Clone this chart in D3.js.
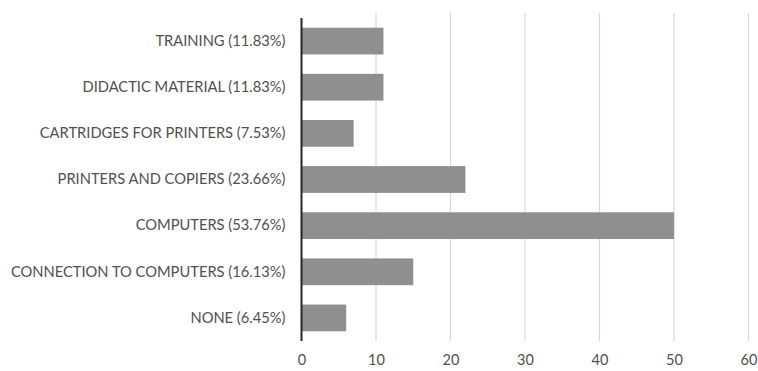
<!DOCTYPE html>
<html>
<head>
<meta charset="utf-8">
<script src="https://cdn.jsdelivr.net/npm/d3@7"></script>
<style>
  html, body { margin: 0; padding: 0; background: #fff; }
  svg { display: block; }
  text { font-family: Lato, "Open Sans", sans-serif; fill: #505050; }
</style>
</head>
<body>
<svg id="chart" width="758" height="371"></svg>
<script>
// Resources requested, in respondent counts (share of 93 in the label)
const categories = [
  "TRAINING (11.83%)",
  "DIDACTIC MATERIAL (11.83%)",
  "CARTRIDGES FOR PRINTERS (7.53%)",
  "PRINTERS AND COPIERS (23.66%)",
  "COMPUTERS (53.76%)",
  "CONNECTION TO COMPUTERS (16.13%)",
  "NONE (6.45%)"
];
const values = [11, 11, 7, 22, 50, 15, 6];
const xTicks = [0, 10, 20, 30, 40, 50, 60];

const svg = d3.select("#chart");
const plotLeft = 301.5, plotRight = 748.5, plotTop = 18, plotBottom = 341;

const x = d3.scaleLinear().domain([0, 60]).range([plotLeft, plotRight]);
const y = d3.scaleBand().domain(categories).range([plotTop, plotBottom]).paddingInner(0.42).paddingOuter(0.21);

// vertical gridlines
svg.append("g")
  .selectAll("line")
  .data(xTicks.filter(d => d > 0))
  .join("line")
  .attr("x1", d => x(d)).attr("x2", d => x(d))
  .attr("y1", 13).attr("y2", plotBottom)
  .attr("stroke", "#d9d9d9")
  .attr("stroke-width", 1.2);

// bars
svg.append("g")
  .selectAll("rect")
  .data(values)
  .join("rect")
  .attr("x", x(0))
  .attr("y", (d, i) => y(categories[i]))
  .attr("width", d => x(d) - x(0))
  .attr("height", y.bandwidth())
  .attr("fill", "#8f8f8f");

// category axis
const yAxis = svg.append("g")
  .attr("transform", `translate(${plotLeft},0)`)
  .call(d3.axisLeft(y).tickSize(0).tickPadding(16));
yAxis.select(".domain").remove();
yAxis.selectAll("text")
  .attr("font-size", 14.7)
  .style("font-family", "Lato, 'Open Sans', sans-serif")
  .attr("fill", "#505050");

svg.append("line")
  .attr("x1", plotLeft).attr("x2", plotLeft)
  .attr("y1", plotTop).attr("y2", plotBottom)
  .attr("stroke", "#262626")
  .attr("stroke-width", 2);

// value axis
const xAxis = svg.append("g")
  .attr("transform", `translate(0,${plotBottom})`)
  .call(d3.axisBottom(x).tickValues(xTicks).tickSize(0).tickPadding(14));
xAxis.select(".domain").remove();
xAxis.selectAll("text")
  .attr("font-size", 14.5)
  .style("font-family", "Lato, 'Open Sans', sans-serif")
  .attr("fill", "#505050");
</script>
</body>
</html>
